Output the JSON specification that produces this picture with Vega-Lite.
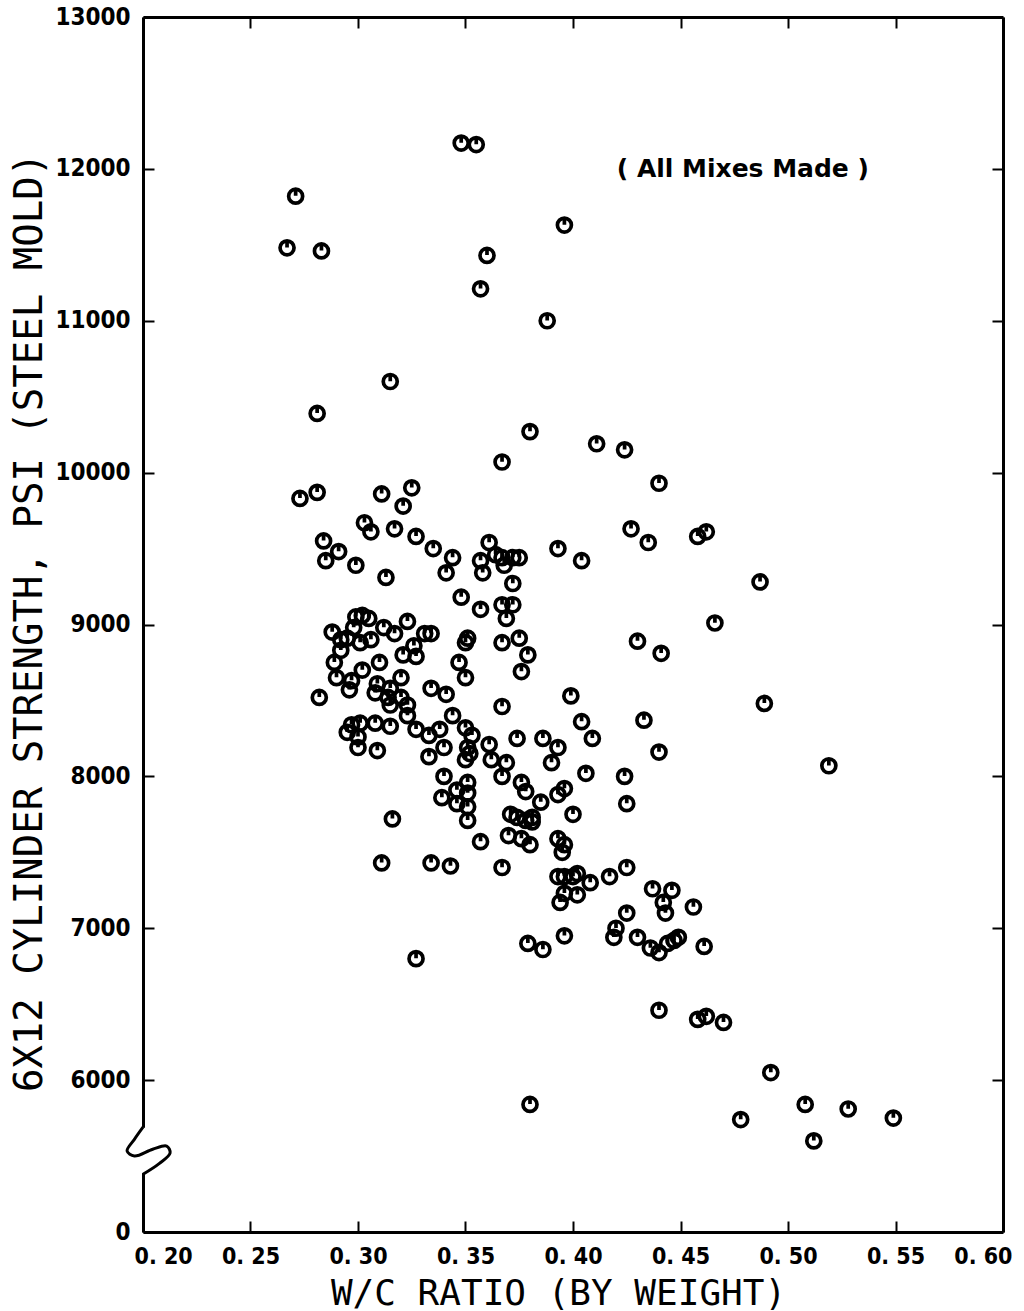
{
  "$schema": "https://vega.github.io/schema/vega-lite/v6.json",
  "autosize": "none",
  "width": 860,
  "height": 1215,
  "padding": {"left": 143, "top": 17, "right": 21, "bottom": 79},
  "background": "white",
  "datasets": {
    "mixes": [
      {"wc": 0.267, "psi": 11480}, {"wc": 0.271, "psi": 11820}, {"wc": 0.283, "psi": 11460},
      {"wc": 0.348, "psi": 12170}, {"wc": 0.355, "psi": 12160}, {"wc": 0.396, "psi": 11630},
      {"wc": 0.360, "psi": 11430}, {"wc": 0.357, "psi": 11210}, {"wc": 0.388, "psi": 11000},
      {"wc": 0.315, "psi": 10600}, {"wc": 0.281, "psi": 10390}, {"wc": 0.380, "psi": 10270},
      {"wc": 0.367, "psi": 10070}, {"wc": 0.411, "psi": 10190}, {"wc": 0.424, "psi": 10150},
      {"wc": 0.440, "psi": 9930}, {"wc": 0.273, "psi": 9830}, {"wc": 0.281, "psi": 9870},
      {"wc": 0.311, "psi": 9860}, {"wc": 0.325, "psi": 9900}, {"wc": 0.321, "psi": 9780},
      {"wc": 0.303, "psi": 9670}, {"wc": 0.306, "psi": 9610}, {"wc": 0.317, "psi": 9630},
      {"wc": 0.327, "psi": 9580}, {"wc": 0.335, "psi": 9500}, {"wc": 0.344, "psi": 9440},
      {"wc": 0.341, "psi": 9340}, {"wc": 0.361, "psi": 9540}, {"wc": 0.357, "psi": 9420},
      {"wc": 0.364, "psi": 9460}, {"wc": 0.358, "psi": 9340}, {"wc": 0.284, "psi": 9550},
      {"wc": 0.291, "psi": 9480}, {"wc": 0.285, "psi": 9420}, {"wc": 0.299, "psi": 9390},
      {"wc": 0.313, "psi": 9310}, {"wc": 0.427, "psi": 9630}, {"wc": 0.435, "psi": 9540},
      {"wc": 0.458, "psi": 9580}, {"wc": 0.462, "psi": 9610}, {"wc": 0.393, "psi": 9500},
      {"wc": 0.404, "psi": 9420}, {"wc": 0.367, "psi": 9440}, {"wc": 0.372, "psi": 9440},
      {"wc": 0.375, "psi": 9440}, {"wc": 0.368, "psi": 9390}, {"wc": 0.372, "psi": 9270},
      {"wc": 0.372, "psi": 9130}, {"wc": 0.367, "psi": 9130}, {"wc": 0.369, "psi": 9040},
      {"wc": 0.375, "psi": 8910}, {"wc": 0.367, "psi": 8880}, {"wc": 0.379, "psi": 8800},
      {"wc": 0.376, "psi": 8690}, {"wc": 0.466, "psi": 9010}, {"wc": 0.430, "psi": 8890},
      {"wc": 0.441, "psi": 8810}, {"wc": 0.399, "psi": 8530}, {"wc": 0.367, "psi": 8460},
      {"wc": 0.404, "psi": 8360}, {"wc": 0.433, "psi": 8370}, {"wc": 0.348, "psi": 9180},
      {"wc": 0.357, "psi": 9100}, {"wc": 0.350, "psi": 8880}, {"wc": 0.351, "psi": 8910},
      {"wc": 0.347, "psi": 8750}, {"wc": 0.350, "psi": 8650}, {"wc": 0.334, "psi": 8580},
      {"wc": 0.341, "psi": 8540}, {"wc": 0.344, "psi": 8400}, {"wc": 0.338, "psi": 8310},
      {"wc": 0.350, "psi": 8320}, {"wc": 0.299, "psi": 9050}, {"wc": 0.302, "psi": 9060},
      {"wc": 0.305, "psi": 9040}, {"wc": 0.298, "psi": 8980}, {"wc": 0.288, "psi": 8950},
      {"wc": 0.312, "psi": 8980}, {"wc": 0.317, "psi": 8940}, {"wc": 0.323, "psi": 9020},
      {"wc": 0.331, "psi": 8940}, {"wc": 0.334, "psi": 8940}, {"wc": 0.292, "psi": 8900},
      {"wc": 0.295, "psi": 8910}, {"wc": 0.301, "psi": 8880}, {"wc": 0.306, "psi": 8900},
      {"wc": 0.292, "psi": 8830}, {"wc": 0.326, "psi": 8860}, {"wc": 0.321, "psi": 8800},
      {"wc": 0.327, "psi": 8790}, {"wc": 0.289, "psi": 8750}, {"wc": 0.310, "psi": 8750},
      {"wc": 0.302, "psi": 8700}, {"wc": 0.290, "psi": 8650}, {"wc": 0.297, "psi": 8630},
      {"wc": 0.296, "psi": 8570}, {"wc": 0.309, "psi": 8610}, {"wc": 0.308, "psi": 8550},
      {"wc": 0.315, "psi": 8580}, {"wc": 0.320, "psi": 8650}, {"wc": 0.314, "psi": 8520},
      {"wc": 0.320, "psi": 8520}, {"wc": 0.315, "psi": 8470}, {"wc": 0.323, "psi": 8470},
      {"wc": 0.323, "psi": 8400}, {"wc": 0.282, "psi": 8520}, {"wc": 0.297, "psi": 8340},
      {"wc": 0.301, "psi": 8350}, {"wc": 0.295, "psi": 8290}, {"wc": 0.300, "psi": 8260},
      {"wc": 0.300, "psi": 8190}, {"wc": 0.308, "psi": 8350}, {"wc": 0.315, "psi": 8330},
      {"wc": 0.309, "psi": 8170}, {"wc": 0.327, "psi": 8310}, {"wc": 0.333, "psi": 8270},
      {"wc": 0.340, "psi": 8190}, {"wc": 0.333, "psi": 8130}, {"wc": 0.353, "psi": 8270},
      {"wc": 0.351, "psi": 8190}, {"wc": 0.352, "psi": 8150}, {"wc": 0.350, "psi": 8110},
      {"wc": 0.361, "psi": 8210}, {"wc": 0.362, "psi": 8110}, {"wc": 0.340, "psi": 8000},
      {"wc": 0.351, "psi": 7960}, {"wc": 0.346, "psi": 7910}, {"wc": 0.351, "psi": 7890},
      {"wc": 0.339, "psi": 7860}, {"wc": 0.346, "psi": 7820}, {"wc": 0.351, "psi": 7800},
      {"wc": 0.351, "psi": 7710}, {"wc": 0.316, "psi": 7720}, {"wc": 0.357, "psi": 7570},
      {"wc": 0.311, "psi": 7430}, {"wc": 0.334, "psi": 7430}, {"wc": 0.343, "psi": 7410},
      {"wc": 0.327, "psi": 6800}, {"wc": 0.374, "psi": 8250}, {"wc": 0.386, "psi": 8250},
      {"wc": 0.393, "psi": 8190}, {"wc": 0.409, "psi": 8250}, {"wc": 0.440, "psi": 8160},
      {"wc": 0.369, "psi": 8090}, {"wc": 0.367, "psi": 8000}, {"wc": 0.390, "psi": 8090},
      {"wc": 0.406, "psi": 8020}, {"wc": 0.424, "psi": 8000}, {"wc": 0.425, "psi": 7820},
      {"wc": 0.376, "psi": 7960}, {"wc": 0.378, "psi": 7900}, {"wc": 0.385, "psi": 7830},
      {"wc": 0.393, "psi": 7880}, {"wc": 0.396, "psi": 7920}, {"wc": 0.400, "psi": 7750},
      {"wc": 0.371, "psi": 7750}, {"wc": 0.374, "psi": 7730}, {"wc": 0.378, "psi": 7710},
      {"wc": 0.381, "psi": 7730}, {"wc": 0.381, "psi": 7700}, {"wc": 0.370, "psi": 7610},
      {"wc": 0.376, "psi": 7590}, {"wc": 0.380, "psi": 7550}, {"wc": 0.393, "psi": 7590},
      {"wc": 0.396, "psi": 7550}, {"wc": 0.395, "psi": 7500}, {"wc": 0.367, "psi": 7400},
      {"wc": 0.393, "psi": 7340}, {"wc": 0.396, "psi": 7340}, {"wc": 0.400, "psi": 7340},
      {"wc": 0.402, "psi": 7360}, {"wc": 0.408, "psi": 7300}, {"wc": 0.417, "psi": 7340},
      {"wc": 0.425, "psi": 7400}, {"wc": 0.396, "psi": 7230}, {"wc": 0.402, "psi": 7220},
      {"wc": 0.394, "psi": 7170}, {"wc": 0.437, "psi": 7260}, {"wc": 0.446, "psi": 7250},
      {"wc": 0.442, "psi": 7170}, {"wc": 0.443, "psi": 7100}, {"wc": 0.456, "psi": 7140},
      {"wc": 0.425, "psi": 7100}, {"wc": 0.420, "psi": 7000}, {"wc": 0.419, "psi": 6940},
      {"wc": 0.430, "psi": 6940}, {"wc": 0.436, "psi": 6870}, {"wc": 0.440, "psi": 6840},
      {"wc": 0.444, "psi": 6900}, {"wc": 0.447, "psi": 6920}, {"wc": 0.449, "psi": 6940},
      {"wc": 0.461, "psi": 6880}, {"wc": 0.379, "psi": 6900}, {"wc": 0.386, "psi": 6860},
      {"wc": 0.396, "psi": 6950}, {"wc": 0.487, "psi": 9280}, {"wc": 0.489, "psi": 8480},
      {"wc": 0.519, "psi": 8070}, {"wc": 0.440, "psi": 6460}, {"wc": 0.458, "psi": 6400},
      {"wc": 0.462, "psi": 6420}, {"wc": 0.470, "psi": 6380}, {"wc": 0.492, "psi": 6050},
      {"wc": 0.478, "psi": 5740}, {"wc": 0.508, "psi": 5840}, {"wc": 0.528, "psi": 5810},
      {"wc": 0.512, "psi": 5600}, {"wc": 0.549, "psi": 5750}, {"wc": 0.380, "psi": 5840}
    ],
    "axisBreak": [
      {"wc": 0.2000, "psi": 5690, "k": 0},
      {"wc": 0.1960, "psi": 5610, "k": 1},
      {"wc": 0.1926, "psi": 5533, "k": 2},
      {"wc": 0.1960, "psi": 5500, "k": 3},
      {"wc": 0.2045, "psi": 5545, "k": 4},
      {"wc": 0.2110, "psi": 5566, "k": 5},
      {"wc": 0.2126, "psi": 5520, "k": 6},
      {"wc": 0.2075, "psi": 5450, "k": 7},
      {"wc": 0.2000, "psi": 5380, "k": 8}
    ],
    "note": [{"label": "( All Mixes Made )"}]
  },
  "layer": [
    {
      "data": {"name": "mixes"},
      "mark": {
        "type": "point",
        "shape": "M -1 0 A 1 1 0 1 1 1 0 A 1 1 0 1 1 -1 0 Z M 0 -1 L 0 -0.05",
        "filled": false,
        "stroke": "black",
        "strokeWidth": 3.7,
        "size": 196,
        "opacity": 1
      },
      "encoding": {
        "x": {
          "field": "wc", "type": "quantitative",
          "scale": {"domain": [0.2, 0.6], "nice": false, "zero": false},
          "axis": {
            "orient": "bottom",
            "values": [0.2, 0.25, 0.3, 0.35, 0.4, 0.45, 0.5, 0.55, 0.6],
            "format": ".2f",
            "labelExpr": "replace(datum.label, '.', '. ')",
            "labelPadding": 24,
            "labelFontSize": 23,
            "labelFlush": true,
            "labelFlushOffset": 9,
            "title": "W/C RATIO (BY WEIGHT)",
            "titleX": 415,
            "titleY": 72,
            "titleBaseline": "alphabetic",
            "titleFontSize": 36
          }
        },
        "y": {
          "field": "psi", "type": "quantitative",
          "scale": {"domain": [5000, 13000], "nice": false, "zero": false},
          "axis": {
            "orient": "left",
            "values": [5000, 6000, 7000, 8000, 9000, 10000, 11000, 12000, 13000],
            "format": "d",
            "labelExpr": "datum.value == 5000 ? '0' : datum.label",
            "labelPadding": 24,
            "title": "6X12 CYLINDER STRENGTH, PSI (STEEL MOLD)",
            "titleAngle": -90,
            "titleX": -114,
            "titleY": 605,
            "titleAlign": "center",
            "titleBaseline": "middle",
            "titleFontSize": 39
          }
        }
      }
    },
    {
      "data": {"name": "note"},
      "mark": {"type": "rect", "fill": "white", "stroke": null},
      "encoding": {
        "x": {"datum": 0.196, "type": "quantitative", "axis": null},
        "x2": {"datum": 0.2016},
        "y": {"datum": 5388, "type": "quantitative", "axis": null},
        "y2": {"datum": 5686}
      }
    },
    {
      "data": {"name": "axisBreak"},
      "mark": {"type": "line", "stroke": "black", "strokeWidth": 3, "interpolate": "catmull-rom"},
      "encoding": {
        "x": {
          "field": "wc", "type": "quantitative",
          "axis": {
            "orient": "top",
            "values": [0.2, 0.25, 0.3, 0.35, 0.4, 0.45, 0.5, 0.55, 0.6],
            "labels": false,
            "title": null
          }
        },
        "y": {
          "field": "psi", "type": "quantitative",
          "axis": {
            "orient": "right",
            "values": [6000, 7000, 8000, 9000, 10000, 11000, 12000],
            "labels": false,
            "title": null
          }
        },
        "order": {"field": "k", "type": "quantitative"}
      }
    },
    {
      "data": {"name": "note"},
      "mark": {
        "type": "text",
        "font": "DejaVu Sans",
        "fontWeight": "bold",
        "fontSize": 25,
        "align": "center",
        "baseline": "middle",
        "color": "black"
      },
      "encoding": {
        "text": {"field": "label"},
        "x": {"datum": 0.479, "type": "quantitative", "axis": null},
        "y": {"datum": 12000, "type": "quantitative", "axis": null}
      }
    }
  ],
  "resolve": {"axis": {"x": "independent", "y": "independent"}},
  "config": {
    "view": {"stroke": null},
    "axis": {
      "grid": false,
      "domainColor": "black",
      "domainWidth": 3,
      "tickColor": "black",
      "tickWidth": 2,
      "tickSize": -11,
      "labelFont": "DejaVu Sans Condensed",
      "labelFontWeight": "bold",
      "labelFontSize": 24,
      "labelColor": "black",
      "titleFont": "DejaVu Sans Mono",
      "titleFontWeight": "normal",
      "titleColor": "black"
    }
  }
}
